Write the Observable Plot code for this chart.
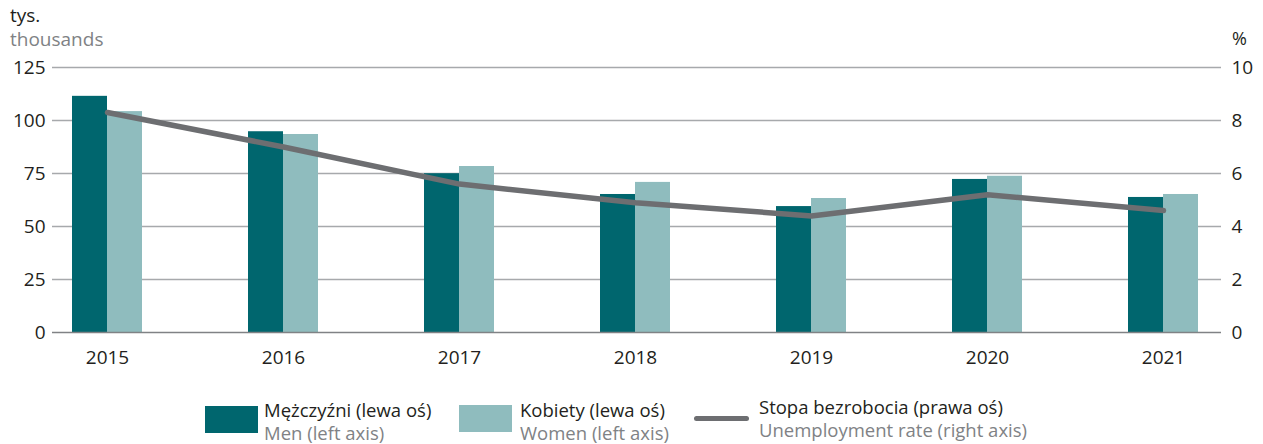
<!DOCTYPE html>
<html>
<head>
<meta charset="utf-8">
<script src="https://cdn.jsdelivr.net/npm/d3@7"></script>
<script src="https://cdn.jsdelivr.net/npm/@observablehq/plot@0.6"></script>
<style>
  html, body { margin: 0; padding: 0; background: #fff; }
  #wrap { position: relative; width: 1263px; height: 444px; font-family: "Open Sans", sans-serif; color: #231f20; overflow: hidden; }
  #chart { position: absolute; left: 0; top: 0; }
  .lbl { position: absolute; font-size: 18.5px; line-height: 23px; white-space: nowrap; }
  .sub { color: #808285; }
  .sw { position: absolute; }
</style>
</head>
<body>
<div id="wrap">
  <div id="chart"></div>
  <div class="lbl" style="left:10px; top:3px; line-height:24px; font-size:19px;">tys.<br><span class="sub">thousands</span></div>
  <div class="lbl" style="left:1232px; top:27px; font-size:18px;">%</div>
  <div id="legend"></div>
</div>
<script>
const years = ["2015", "2016", "2017", "2018", "2019", "2020", "2021"];
const men = [111.4, 94.7, 74.9, 65.1, 59.4, 72.2, 63.7];
const women = [104.2, 93.4, 78.3, 70.8, 63.2, 73.7, 65.1];
const rate = [8.3, 7.0, 5.6, 4.9, 4.4, 5.2, 4.6];
const leftTicks = [0, 25, 50, 75, 100, 125];
const rightTicks = [0, 2, 4, 6, 8, 10];
const legendItems = [
  {pl: "Mężczyźni (lewa oś)", en: "Men (left axis)"},
  {pl: "Kobiety (lewa oś)", en: "Women (left axis)"},
  {pl: "Stopa bezrobocia (prawa oś)", en: "Unemployment rate (right axis)"}
];

const colMen = "#00666e", colWomen = "#8fbcbe", colRate = "#6d6e71";
const ratio = 125 / 10;

const data = years.map((y, i) => ({year: y, men: men[i], women: women[i], rate: rate[i]}));

const plot = Plot.plot({
  width: 1263,
  height: 380,
  marginLeft: 52,
  marginRight: 42,
  marginTop: 67,
  marginBottom: 48,
  style: {fontFamily: "Open Sans, sans-serif", color: "#231f20", background: "#fff"},
  x: {type: "band", domain: years, range: [19, 1251], padding: 0},
  y: {domain: [0, 125]},
  marks: [
    Plot.ruleY(leftTicks.filter(d => d > 0), {stroke: "#a7a9ac", strokeWidth: 1.4}),
    Plot.barY(data, {x: "year", y: "men", fill: colMen, insetLeft: 53, insetRight: 88}),
    Plot.barY(data, {x: "year", y: "women", fill: colWomen, insetLeft: 88, insetRight: 53}),
    Plot.ruleY([0], {stroke: "#808285", strokeWidth: 1.6}),
    Plot.lineY(data, {x: "year", y: d => d.rate * ratio, stroke: colRate, strokeWidth: 5.5, strokeLinecap: "round", strokeLinejoin: "round"}),
    Plot.axisY({anchor: "left", ticks: leftTicks, tickSize: 0, tickPadding: 7, fontSize: 19, label: null}),
    Plot.axisY({anchor: "right", ticks: rightTicks.map(d => d * ratio), tickFormat: d => String(d / ratio), tickSize: 0, tickPadding: 10, fontSize: 19, label: null}),
    Plot.axisX({anchor: "bottom", tickSize: 0, tickPadding: 18, fontSize: 19, label: null})
  ]
});
document.getElementById("chart").appendChild(plot);

// legend
const leg = document.getElementById("legend");
const pos = [
  {sw: {left: 205, top: 406, w: 53, h: 27, color: colMen}, text: {left: 264, top: 398}},
  {sw: {left: 459, top: 405, w: 53, h: 27, color: colWomen}, text: {left: 520, top: 398}},
  {sw: {left: 694, top: 416, w: 55, h: 5, color: colRate, r: 2.5}, text: {left: 759, top: 395}}
];
legendItems.forEach((it, i) => {
  const p = pos[i];
  const s = document.createElement("div");
  s.className = "sw";
  s.style.cssText = `left:${p.sw.left}px;top:${p.sw.top}px;width:${p.sw.w}px;height:${p.sw.h}px;background:${p.sw.color};border-radius:${p.sw.r || 0}px;`;
  leg.appendChild(s);
  const t = document.createElement("div");
  t.className = "lbl";
  t.style.left = p.text.left + "px";
  t.style.top = p.text.top + "px";
  t.innerHTML = `${it.pl}<br><span class="sub">${it.en}</span>`;
  leg.appendChild(t);
});
</script>
</body>
</html>
